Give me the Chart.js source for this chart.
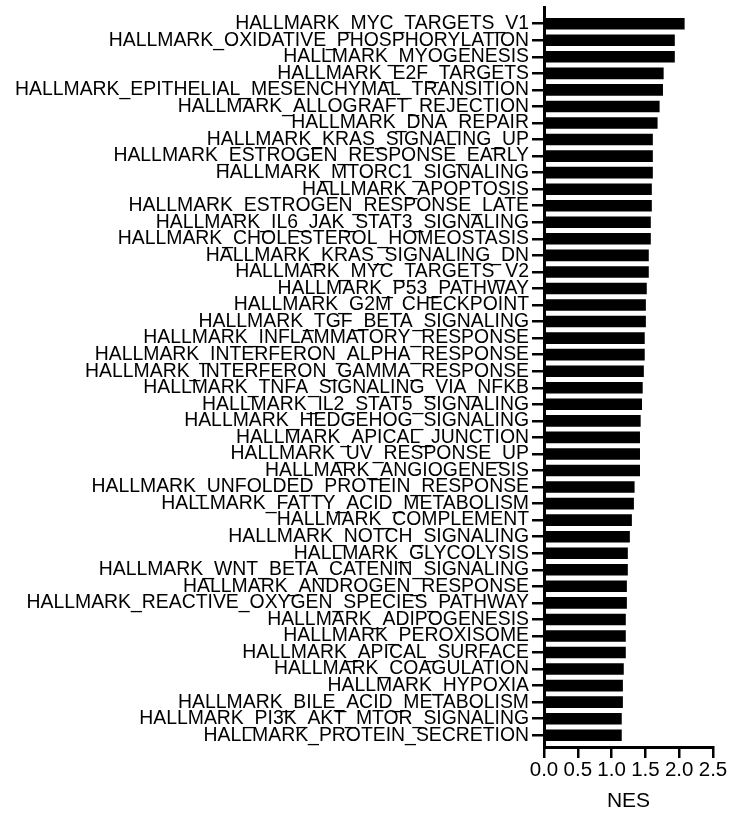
<!DOCTYPE html>
<html>
<head>
<meta charset="utf-8">
<script src="https://cdn.jsdelivr.net/npm/chart.js@4/dist/chart.umd.min.js"></script>
<style>
  body { margin: 0; background: #fff; }
  canvas { display: block; }
</style>
</head>
<body>
<canvas id="nesChart" width="729" height="815"></canvas>
<script>
// hallmark gene sets, top to bottom
const pathways = [
  'HALLMARK_MYC_TARGETS_V1',
  'HALLMARK_OXIDATIVE_PHOSPHORYLATION',
  'HALLMARK_MYOGENESIS',
  'HALLMARK_E2F_TARGETS',
  'HALLMARK_EPITHELIAL_MESENCHYMAL_TRANSITION',
  'HALLMARK_ALLOGRAFT_REJECTION',
  'HALLMARK_DNA_REPAIR',
  'HALLMARK_KRAS_SIGNALING_UP',
  'HALLMARK_ESTROGEN_RESPONSE_EARLY',
  'HALLMARK_MTORC1_SIGNALING',
  'HALLMARK_APOPTOSIS',
  'HALLMARK_ESTROGEN_RESPONSE_LATE',
  'HALLMARK_IL6_JAK_STAT3_SIGNALING',
  'HALLMARK_CHOLESTEROL_HOMEOSTASIS',
  'HALLMARK_KRAS_SIGNALING_DN',
  'HALLMARK_MYC_TARGETS_V2',
  'HALLMARK_P53_PATHWAY',
  'HALLMARK_G2M_CHECKPOINT',
  'HALLMARK_TGF_BETA_SIGNALING',
  'HALLMARK_INFLAMMATORY_RESPONSE',
  'HALLMARK_INTERFERON_ALPHA_RESPONSE',
  'HALLMARK_INTERFERON_GAMMA_RESPONSE',
  'HALLMARK_TNFA_SIGNALING_VIA_NFKB',
  'HALLMARK_IL2_STAT5_SIGNALING',
  'HALLMARK_HEDGEHOG_SIGNALING',
  'HALLMARK_APICAL_JUNCTION',
  'HALLMARK_UV_RESPONSE_UP',
  'HALLMARK_ANGIOGENESIS',
  'HALLMARK_UNFOLDED_PROTEIN_RESPONSE',
  'HALLMARK_FATTY_ACID_METABOLISM',
  'HALLMARK_COMPLEMENT',
  'HALLMARK_NOTCH_SIGNALING',
  'HALLMARK_GLYCOLYSIS',
  'HALLMARK_WNT_BETA_CATENIN_SIGNALING',
  'HALLMARK_ANDROGEN_RESPONSE',
  'HALLMARK_REACTIVE_OXYGEN_SPECIES_PATHWAY',
  'HALLMARK_ADIPOGENESIS',
  'HALLMARK_PEROXISOME',
  'HALLMARK_APICAL_SURFACE',
  'HALLMARK_COAGULATION',
  'HALLMARK_HYPOXIA',
  'HALLMARK_BILE_ACID_METABOLISM',
  'HALLMARK_PI3K_AKT_MTOR_SIGNALING',
  'HALLMARK_PROTEIN_SECRETION'
];

const nes = [
  2.08, 1.935, 1.935, 1.77, 1.76, 1.71, 1.68, 1.61, 1.61, 1.61,
  1.595, 1.595, 1.58, 1.58, 1.55, 1.55, 1.52, 1.507, 1.507, 1.49,
  1.49, 1.477, 1.46, 1.45, 1.43, 1.42, 1.42, 1.42, 1.34, 1.33,
  1.30, 1.27, 1.24, 1.24, 1.226, 1.226, 1.21, 1.21, 1.21, 1.18,
  1.167, 1.167, 1.15, 1.15
];

const xTicks = [0, 0.5, 1.0, 1.5, 2.0, 2.5];

const FONT = "'Liberation Sans', Arial, sans-serif";

new Chart(document.getElementById('nesChart'), {
  type: 'bar',
  data: {
    datasets: [{
      data: nes.map((v, i) => ({ x: v, y: i })),
      backgroundColor: '#000',
      borderWidth: 0,
      barPercentage: 0.7,
      categoryPercentage: 1.0
    }]
  },
  options: {
    indexAxis: 'y',
    responsive: false,
    animation: false,
    layout: { padding: { top: 7, right: 16, bottom: 0, left: 0 } },
    plugins: { legend: { display: false }, tooltip: { enabled: false } },
    scales: {
      y: {
        type: 'linear',
        reverse: true,
        offset: false,
        min: -1.01,
        max: 43.71,
        afterBuildTicks: (scale) => {
          scale.ticks = pathways.map((p, i) => ({ value: i }));
        },
        afterFit: (scale) => {
          scale.width = 544;
          scale.paddingTop = 0;
          scale.paddingBottom = 0;
        },
        ticks: {
          autoSkip: false,
          padding: 3,
          color: '#000',
          font: { family: FONT, size: 19.4, lineHeight: 0.5 },
          callback: (v) => pathways[v]
        },
        grid: {
          offset: false,
          drawOnChartArea: false,
          drawTicks: true,
          tickLength: 12,
          lineWidth: 2.5,
          color: '#000'
        },
        border: { display: true, color: '#000', width: 3 }
      },
      x: {
        type: 'linear',
        min: 0,
        max: 2.5,
        afterBuildTicks: (scale) => {
          scale.ticks = xTicks.map(v => ({ value: v }));
        },
        afterFit: (scale) => {
          scale.height = 68;
        },
        ticks: {
          autoSkip: false,
          maxRotation: 0,
          padding: 0,
          color: '#000',
          font: { family: FONT, size: 20.5 },
          callback: (v) => v.toFixed(1)
        },
        grid: {
          drawOnChartArea: false,
          drawTicks: true,
          tickLength: 11,
          lineWidth: 2.5,
          color: '#000'
        },
        border: { display: true, color: '#000', width: 3 },
        title: {
          display: true,
          text: 'NES',
          color: '#000',
          font: { family: FONT, size: 21 },
          padding: { top: 0, bottom: 1 }
        }
      }
    }
  }
});
</script>
</body>
</html>
